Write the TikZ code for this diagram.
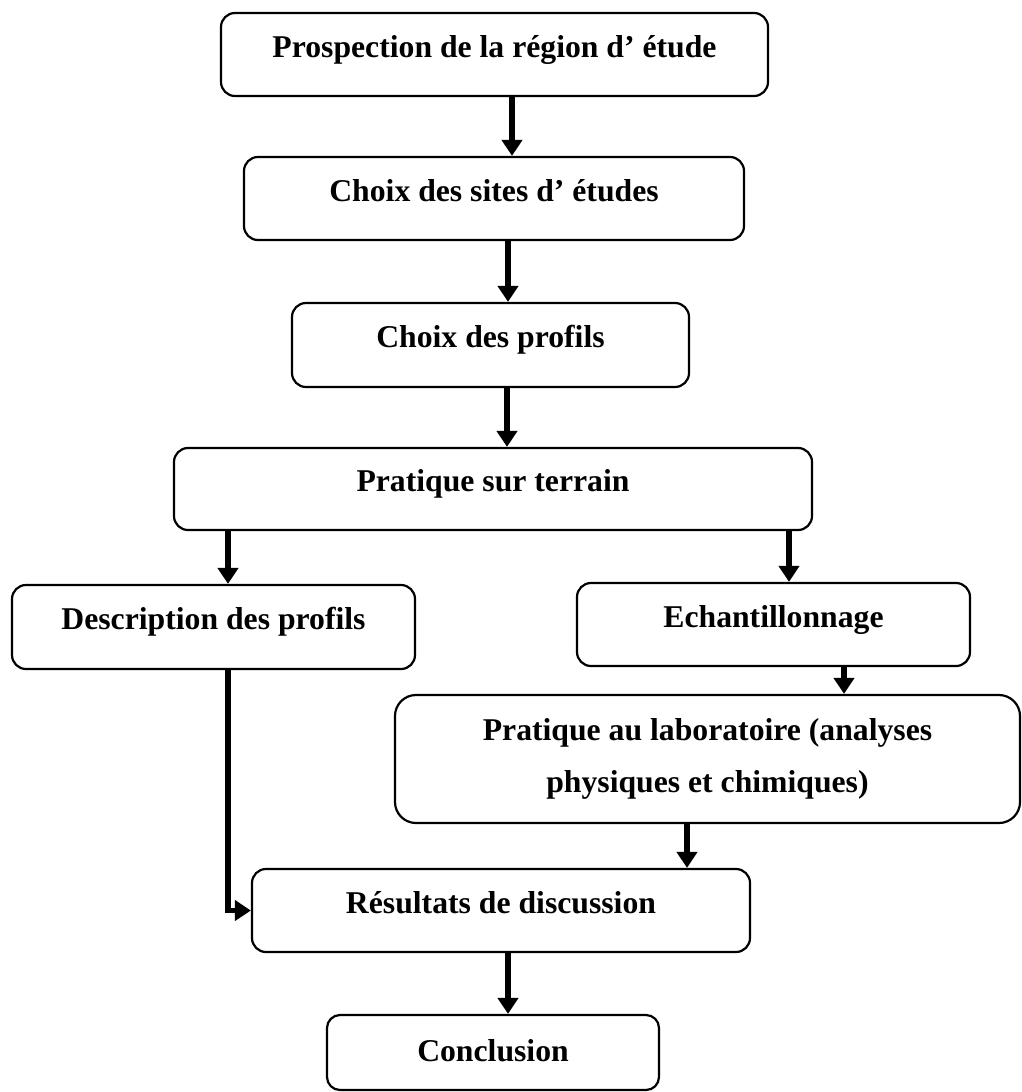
\documentclass[tikz,border=0pt]{standalone}
\usepackage{fontspec}
\setmainfont{Liberation Serif}
\usepackage{tikz}
\usetikzlibrary{arrows.meta}
\tikzset{>={Triangle[width=10pt,length=8pt]}}
\tikzset{etape/.style={draw,line width=1.1pt,rounded corners=7pt,inner sep=0pt,
    font=\fontsize{15.85}{26}\selectfont\bfseries,text height=11pt,text depth=8.5pt},
  fleche/.style={->,line width=2.8pt}}

\begin{document}
\begin{tikzpicture}[x=0.5pt,y=-0.5pt]
        \useasboundingbox (0,0) rectangle (1022,1092);
        \node[etape,minimum width=273.5pt,minimum height=41.5pt] (prosp) at (494.5,54.5) {Prospection de la région d’ étude};
        \node[etape,minimum width=250pt,minimum height=41.5pt] (sites) at (494,198.5) {Choix des sites d’ études};
        \node[etape,minimum width=198.5pt,minimum height=42pt] (profils) at (490.5,345) {Choix des profils};
        \node[etape,minimum width=319pt,minimum height=41pt] (terrain) at (493,489) {Pratique sur terrain};
        \node[etape,minimum width=201.5pt,minimum height=42pt] (descr) at (213.5,627) {Description des profils};
        \node[etape,minimum width=196.5pt,minimum height=41.5pt] (echant) at (773.5,624.5) {Echantillonnage};
        \node[etape,minimum width=312.5pt,minimum height=64pt,rounded corners=10.5pt,align=center,text height=,text depth=] (labo) at (707.5,759) {Pratique au laboratoire (analyses\\physiques et chimiques)};
        \node[etape,minimum width=249pt,minimum height=41.5pt] (result) at (501,910.5) {Résultats de discussion};
        \node[etape,minimum width=166pt,minimum height=37.5pt,rounded corners=6.5pt,text depth=2.5pt] (concl) at (493,1052.5) {Conclusion};
        \draw[fleche] ([xshift=8.75pt]prosp.south) -- ([xshift=8.75pt]prosp.south |- sites.north);
        \draw[fleche] ([xshift=7pt]sites.south) -- ([xshift=7pt]sites.south |- profils.north);
        \draw[fleche] ([xshift=8.25pt]profils.south) -- ([xshift=8.25pt]profils.south |- terrain.north);
        \draw[fleche] ([xshift=-132.5pt]terrain.south) -- ([xshift=-132.5pt]terrain.south |- descr.north);
        \draw[fleche] ([xshift=148pt]terrain.south) -- ([xshift=148pt]terrain.south |- echant.north);
        \draw[fleche] ([xshift=35.25pt]echant.south) -- ([xshift=35.25pt]echant.south |- labo.north);
        \draw[fleche] ([xshift=-10.25pt]labo.south) -- ([xshift=-10.25pt]labo.south |- result.north);
        \draw[fleche] ([xshift=7.25pt]descr.south) |- (result.west);
        \draw[fleche] ([xshift=3.5pt]result.south) -- ([xshift=3.5pt]result.south |- concl.north);
\end{tikzpicture}
\end{document}
